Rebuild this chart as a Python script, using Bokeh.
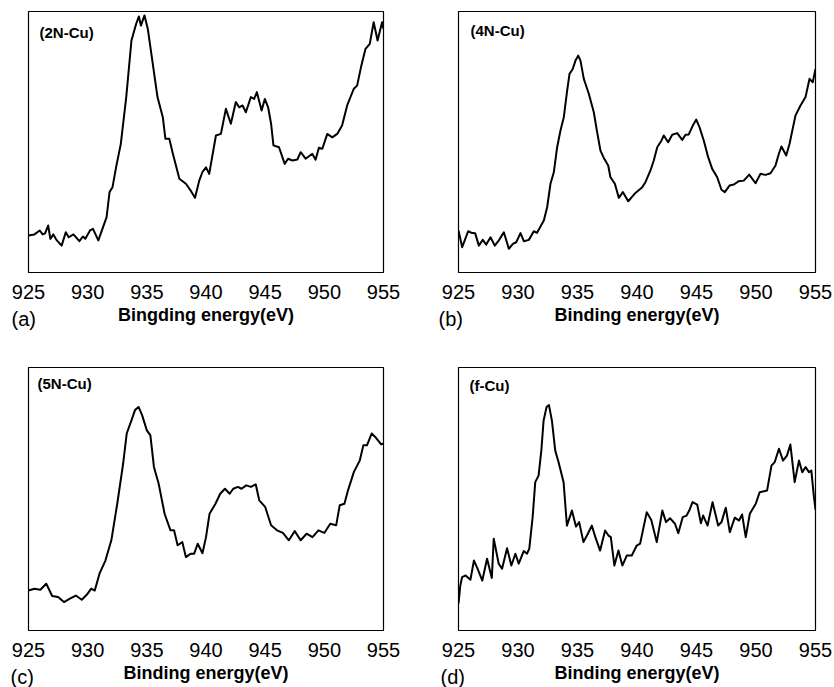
from bokeh.plotting import figure
from bokeh.layouts import gridplot
from bokeh.models import Label, Range1d, FixedTicker, Title
from bokeh.embed import file_html
from bokeh.resources import INLINE

ticks = [925, 930, 935, 940, 945, 950, 955]

# (a) 2N-Cu
xa = [925, 925.5, 925.95, 926.2, 926.4, 926.66, 926.85, 927.1, 927.36, 927.8, 928.15, 928.4, 928.8, 929.3,
      929.6, 929.8, 930.2, 930.45, 930.9, 931.3, 931.6, 931.85, 932.1, 932.4, 932.8, 933.26, 933.7, 934.1,
      934.33, 934.5, 934.8, 935.08, 935.5, 935.9, 936.35, 936.57, 936.9, 937.2, 937.75, 938.3, 938.7,
      939.07, 939.43, 939.7, 940.0, 940.27, 940.84, 941.26, 941.68, 942.1, 942.52, 942.8, 943.09, 943.37,
      943.79, 944.07, 944.3, 944.7, 944.97, 945.25, 945.5, 945.7, 946.17, 946.65, 946.93, 947.3, 947.72,
      948.0, 948.42, 948.98, 949.26, 949.54, 949.83, 950.25, 950.67, 951.09, 951.5, 951.93, 952.49,
      952.77, 953.1, 953.48, 953.84, 954.17, 954.5, 954.88, 955]
ya = [14.2, 14.6, 16.1, 14.6, 15.0, 18.0, 12.9, 14.6, 12.5, 10.3, 15.4, 13.5, 14.6, 12.0,
      13.8, 12.9, 16.1, 16.7, 12.3, 17.4, 21.2, 30.8, 32.7, 40.3, 49.3, 67.2, 88.9, 95.3,
      98.1, 94.6, 98.5, 93.4, 80.0, 67.2, 59.5, 51.2, 51.2, 45.5, 35.9, 34.0, 31.4,
      28.6, 35.2, 38.5, 40.3, 37.8, 52.5, 53.1, 62.7, 57.0, 65.3, 63.3, 64.0, 61.4,
      67.2, 66.5, 69.1, 62.1, 66.5, 63.3, 57.0, 48.7, 48.0, 41.6, 43.6, 42.9, 43.3,
      46.1, 43.6, 45.5, 43.2, 47.8, 47.4, 53.1, 51.8, 53.1, 56.3, 64.0, 70.4,
      71.6, 78.7, 85.7, 87.6, 95.9, 88.9, 95.9, 93.4]

# (b) 4N-Cu
xb = [925.0, 925.31, 925.81, 926.15, 926.4, 926.71, 927.04, 927.33, 927.69, 928.05, 928.39, 928.81, 929.23,
      929.57, 929.85, 930.21, 930.49, 930.91, 931.33, 931.6, 931.89, 932.17, 932.45, 932.73, 933.01, 933.29,
      933.57, 933.85, 934.13, 934.33, 934.6, 934.83, 935.06, 935.25, 935.53, 935.95, 936.37, 936.65, 936.93,
      937.21, 937.58, 937.77, 938.14, 938.47, 938.81, 939.26, 939.6, 939.87, 940.44, 940.71, 941.13, 941.41,
      941.7, 942.06, 942.25, 942.62, 942.96, 943.38, 943.8, 944.08, 944.35, 944.69, 944.98, 945.25, 945.61,
      945.98, 946.32, 946.74, 947.1, 947.38, 947.77, 948.14, 948.55, 948.97, 949.43, 949.96, 950.38, 950.8,
      951.22, 951.64, 951.92, 952.14, 952.54, 952.82, 953.32, 953.74, 954.16, 954.5, 954.77, 955.0]
yb = [16.1, 9.7, 15.8, 15.1, 15.0, 10.3, 12.5, 10.7, 13.5, 10.3, 12.3, 15.4, 9.1,
      11.0, 11.6, 15.1, 12.0, 12.5, 15.8, 15.2, 17.6, 19.9, 25.0, 34.0, 38.4, 48.0,
      54.4, 59.5, 69.7, 76.1, 78.0, 81.2, 83.1, 81.2, 74.2, 68.5, 61.4, 53.8, 46.7,
      43.9, 41.0, 36.5, 34.0, 28.6, 30.8, 27.3, 29.1, 30.5, 32.7, 34.6, 39.1, 42.9,
      48.0, 50.6, 52.5, 49.9, 52.8, 53.4, 50.8, 52.8, 52.9, 56.3, 58.6, 55.7, 50.6,
      44.2, 39.7, 36.5, 31.7, 30.8, 33.3, 33.7, 35.0, 35.2, 37.5, 34.2, 37.8, 37.4,
      38.0, 41.0, 45.5, 48.3, 44.8, 49.3, 60.2, 64.0, 67.2, 74.2, 72.9, 78.0]

# (c) 5N-Cu
xc = [925, 925.5, 926, 926.5, 927, 927.5, 928, 928.5, 929, 929.5, 930, 930.3, 930.6, 931, 931.5, 932,
      932.5, 933, 933.3, 933.7, 934, 934.3, 934.6, 935, 935.3, 935.6, 936, 936.5, 937, 937.3, 937.6, 938,
      938.3, 938.7, 939, 939.3, 939.7, 940, 940.3, 940.8, 941.2, 941.6, 942, 942.3, 942.7, 943, 943.4,
      943.8, 944.2, 944.5, 945, 945.5, 946, 946.5, 947, 947.5, 948, 948.5, 949, 949.5, 950, 950.5, 951,
      951.3, 951.7, 952, 952.5, 953, 953.3, 953.6, 954, 954.3, 954.8, 955]
yc = [15.2, 15.9, 15.5, 17.8, 13.1, 12.7, 10.8, 12.1, 13.3, 11.7, 14.0, 15.9, 15.2, 21.6, 26.6, 34.3,
      48.2, 63.5, 74.9, 79.9, 83.8, 85.0, 81.9, 76.1, 74.2, 62.2, 55.8, 44.4, 38.1, 38.1, 32.4, 33.6,
      27.9, 29.2, 29.2, 33.0, 29.4, 35.5, 44.4, 48.2, 52.0, 53.9, 52.0, 53.9, 54.6, 53.9, 55.2,
      54.6, 55.6, 49.5, 47.0, 40.0, 38.1, 37.1, 34.3, 37.8, 34.3, 36.8, 35.5, 38.1, 37.1, 40.6, 40.0,
      47.6, 48.2, 53.3, 60.3, 64.7, 70.4, 70.4, 74.9, 73.6, 70.8, 71.1]

# (d) f-Cu
xd = [925, 925.15, 925.3, 925.6, 926.0, 926.3, 926.6, 927.0, 927.4, 927.8, 927.96, 928.38, 928.66, 929.08,
      929.44, 929.78, 930.06, 930.48, 930.76, 930.95, 931.23, 931.45, 931.73, 931.96, 932.15, 932.4, 932.6,
      932.85, 933.13, 933.41, 933.83, 934.11, 934.53, 934.87, 935.14, 935.5, 935.87, 936.2, 936.5, 936.9,
      937.32, 937.6, 937.8, 938.1, 938.44, 938.77, 939.14, 939.56, 939.98, 940.26, 940.82, 941.2, 941.66,
      942.13, 942.44, 942.77, 943.19, 943.47, 943.84, 944.17, 944.39, 944.67, 945.06, 945.37, 945.56,
      945.93, 946.35, 946.82, 947.1, 947.46, 947.8, 948.22, 948.58, 948.83, 949.14, 949.48, 949.98,
      950.31, 950.93, 951.3, 951.57, 951.93, 952.27, 952.6, 952.89, 953.25, 953.61, 953.89, 954.17,
      954.45, 954.65, 954.87, 955]
yd = [10.2, 17.0, 20.3, 20.9, 19.3, 26.6, 23.5, 19.0, 27.3, 20.0, 34.9, 25.4, 23.5, 31.3,
      24.7, 29.2, 25.4, 30.2, 29.2, 31.1, 43.1, 56.4, 58.9, 68.4, 79.8, 85.0, 85.7,
      79.8, 68.4, 64.0, 56.4, 39.9, 45.6, 39.5, 41.2, 33.6, 36.8, 39.9, 35.5, 30.4,
      38.0, 36.1, 35.5, 24.7, 30.4, 24.7, 28.5, 28.5, 32.3, 33.0, 45.0, 42.0, 33.6,
      45.6, 41.2, 42.7, 40.6, 37.0, 43.1, 43.7, 45.6, 48.8, 47.9, 40.8, 43.7,
      39.9, 48.8, 39.9, 41.2, 46.7, 37.4, 42.9, 41.8, 44.1, 35.5, 44.4, 48.2,
      52.6, 53.2, 62.7, 64.0, 69.1, 64.6, 66.5, 70.7, 56.4, 64.6, 60.2, 62.1,
      60.2, 60.8, 50.7, 46.0]

names = ["(2N-Cu)", "(4N-Cu)", "(5N-Cu)", "(f-Cu)"]
letters = ["(a)", "(b)", "(c)", "(d)"]
xlabels = ["Bingding energy(eV)", "Binding energy(eV)", "Binding energy(eV)", "Binding energy(eV)"]
FONT = "Liberation Sans"


def panel(x, y, name, letter, xlabel, w, h, bl, br, bt, bb, name_off, letter_dx):
    p = figure(width=w, height=h, output_backend="svg", toolbar_location=None,
               x_range=Range1d(925, 955), y_range=Range1d(0, 100),
               min_border_left=bl, min_border_right=br, min_border_top=bt, min_border_bottom=bb)
    p.line(x, y, line_color="black", line_width=2, line_join="round")
    p.grid.visible = False
    p.yaxis.visible = False
    p.outline_line_color = "black"
    p.outline_line_width = 1.2
    p.outline_line_alpha = 1.0
    ax = p.xaxis[0]
    ax.ticker = FixedTicker(ticks=ticks)
    ax.axis_line_color = None
    ax.major_tick_line_color = None
    ax.minor_tick_line_color = None
    ax.major_label_text_font = FONT
    ax.major_label_text_font_size = "20px"
    ax.major_label_text_color = "black"
    ax.major_label_standoff = 6
    ax.axis_label = xlabel
    ax.axis_label_text_font = FONT
    ax.axis_label_text_font_size = "18px"
    ax.axis_label_text_font_style = "bold"
    ax.axis_label_text_color = "black"
    ax.axis_label_standoff = 3
    p.add_layout(Label(x=925, y=100, x_offset=name_off[0], y_offset=name_off[1], text=name,
                       text_font=FONT, text_font_size="15px", text_font_style="bold",
                       text_baseline="top", text_color="black"))
    p.add_layout(Title(text=letter, align="left", offset=letter_dx, standoff=-40,
                       vertical_align="top",
                       text_font=FONT, text_font_size="20px", text_font_style="normal",
                       text_color="black"), "below")
    return p


pa = panel(xa, ya, names[0], letters[0], xlabels[0], 417, 340, 27, 34, 11, 68, (11, -12), -17)
pb = panel(xb, yb, names[1], letters[1], xlabels[1], 417, 340, 41, 19, 11, 68, (12, -10), -20)
pc = panel(xc, yc, names[2], letters[2], xlabels[2], 417, 347, 28, 32, 27, 57, (9, -7), -18)
pd = panel(xd, yd, names[3], letters[3], xlabels[3], 417, 347, 41, 19, 27, 57, (11, -9), -18)

grid = gridplot([[pa, pb], [pc, pd]], toolbar_location=None)

open("out.html", "w").write(file_html(grid, INLINE))
